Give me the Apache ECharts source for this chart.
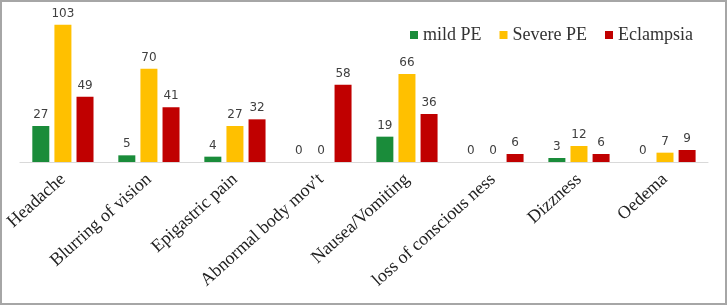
<!DOCTYPE html>
<html>
<head>
<meta charset="utf-8">
<script src="https://cdn.jsdelivr.net/npm/echarts@6/dist/echarts.min.js"></script>
<style>
  html, body { margin: 0; padding: 0; background: #fff; }
  #chart { width: 727px; height: 305px; box-sizing: border-box; border: 2px solid #a6a6a6; }
</style>
</head>
<body>
<div id="chart"></div>
<script>
// data
var categories = ['Headache', 'Blurring of vision', 'Epigastric pain', "Abnormal body mov't",
  'Nausea/Vomiting', 'loss of conscious ness', 'Dizzness', 'Oedema'];
var seriesNames = ['mild PE', 'Severe PE', 'Eclampsia'];
var mildPE = [27, 5, 4, 0, 19, 0, 3, 0];
var severePE = [103, 70, 27, 0, 66, 0, 12, 7];
var eclampsia = [49, 41, 32, 58, 36, 6, 6, 9];

var serif = 'Liberation Serif';
var chart = echarts.init(document.getElementById('chart'));

function bar(name, data, color) {
  return {
    name: name,
    type: 'bar',
    data: data,
    barWidth: 17,
    barGap: '30%',
    itemStyle: { color: color },
    label: {
      show: true,
      position: 'top',
      distance: 5,
      color: '#404040',
      fontFamily: 'DejaVu Sans',
      fontSize: 12
    }
  };
}

var option = {
  animation: false,
  legend: {
    top: 19,
    left: 403,
    itemWidth: 8,
    itemHeight: 8,
    itemGap: 18,
    icon: 'rect',
    textStyle: { fontFamily: serif, fontSize: 18, color: '#333' },
    data: seriesNames
  },
  grid: { left: 17, right: 17, top: 0, bottom: 141 },
  xAxis: {
    type: 'category',
    data: categories,
    axisLine: { lineStyle: { color: '#d9d9d9', width: 1 } },
    axisTick: { show: false },
    axisLabel: {
      rotate: 42,
      interval: 0,
      margin: 15,
      fontFamily: serif,
      fontSize: 18,
      color: '#222'
    }
  },
  yAxis: { type: 'value', min: 0, max: 120, show: false },
  series: [
    bar(seriesNames[0], mildPE, '#1a8c3a'),
    bar(seriesNames[1], severePE, '#ffc000'),
    bar(seriesNames[2], eclampsia, '#c00000')
  ]
};
chart.setOption(option);
</script>
</body>
</html>
